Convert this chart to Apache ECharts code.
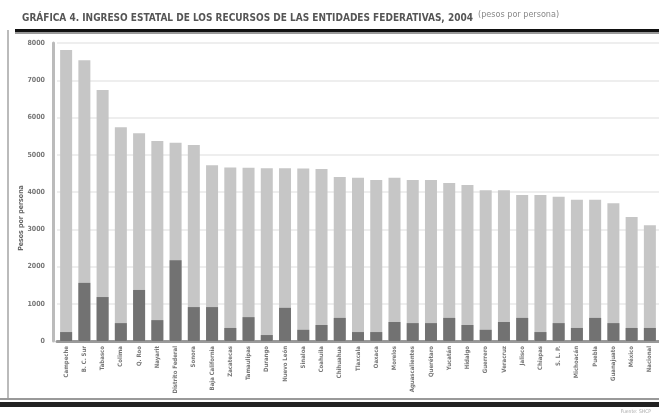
<!DOCTYPE html>
<html>
<head>
<meta charset="utf-8">
<script src="https://cdn.jsdelivr.net/npm/echarts@6/dist/echarts.min.js"></script>
<style>
  html, body { margin: 0; padding: 0; background: #fff; }
  #chart { width: 659px; height: 417px; }
</style>
</head>
<body>
<div id="chart"></div>
<script>
// entidades, ordenadas de mayor a menor
var estados = ['Campeche', 'B. C. Sur', 'Tabasco', 'Colima', 'Q. Roo', 'Nayarit', 'Distrito Federal',
  'Sonora', 'Baja California', 'Zacatecas', 'Tamaulipas', 'Durango', 'Nuevo León', 'Sinaloa',
  'Coahuila', 'Chihuahua', 'Tlaxcala', 'Oaxaca', 'Morelos', 'Aguascalientes', 'Querétaro',
  'Yucatán', 'Hidalgo', 'Guerrero', 'Veracruz', 'Jalisco', 'Chiapas', 'S. L. P.',
  'Michoacán', 'Puebla', 'Guanajuato', 'México', 'Nacional']
// recursos totales (pesos por persona)
var total = [7810, 7540, 6740, 5740, 5580, 5370, 5320, 5260, 4720, 4660, 4650, 4640, 4640, 4630,
  4620, 4400, 4380, 4320, 4380, 4320, 4320, 4240, 4190, 4050, 4050, 3920, 3920, 3870,
  3790, 3790, 3700, 3330, 3110]
// ingresos propios (pesos por persona)
var propios = [240, 1560, 1180, 480, 1370, 560, 2170, 910, 910, 350, 640, 160, 890, 300,
  430, 620, 240, 240, 510, 480, 480, 620, 430, 300, 510, 620, 240, 480,
  350, 620, 480, 350, 350]
var yTicks = [0, 1000, 2000, 3000, 4000, 5000, 6000, 7000, 8000]

var FONT = '"Liberation Sans Narrow", "DejaVu Sans Condensed", "Liberation Sans", sans-serif'

var chart = echarts.init(document.getElementById('chart'))

chart.setOption({
  backgroundColor: '#fff',
  animation: false,
  title: {
    text: 'GRÁFICA 4. INGRESO ESTATAL DE LOS RECURSOS DE LAS ENTIDADES FEDERATIVAS, 2004',
    left: 17,
    top: 8,
    textStyle: { fontFamily: FONT, fontSize: 10, fontWeight: 'bold', color: '#555' }
  },
  graphic: [
    { type: 'text', left: 478, top: 10,
      style: { text: '(pesos por persona)', fontFamily: FONT, fontSize: 9, fill: '#888' } },
    // lineas de marco
    { type: 'rect', shape: { x: 15, y: 29, width: 644, height: 3 }, style: { fill: '#111' } },
    { type: 'rect', shape: { x: 15, y: 32, width: 644, height: 2 }, style: { fill: '#999' } },
    { type: 'rect', shape: { x: 7, y: 30, width: 2, height: 368 }, style: { fill: '#bbb' } },
    { type: 'rect', shape: { x: 0, y: 398, width: 659, height: 2 }, style: { fill: '#999' } },
    { type: 'rect', shape: { x: 0, y: 402, width: 659, height: 5 }, style: { fill: '#222' } },
    { type: 'text', x: 21, y: 218, rotation: Math.PI / 2,
      style: { text: 'Pesos por persona', fontFamily: FONT, fontSize: 7, fontWeight: 'bold',
        fill: '#666', align: 'center', verticalAlign: 'middle' } },
    { type: 'text', right: 8, top: 409,
      style: { text: 'Fuente: SHCP', fontFamily: FONT, fontSize: 5, fill: '#aaa' } }
  ],
  grid: { left: 57, right: 0, top: 43, bottom: 76 },
  xAxis: {
    type: 'category',
    data: estados,
    axisLine: { lineStyle: { color: '#999', width: 3 } },
    axisTick: { show: false },
    axisLabel: {
      interval: 0, rotate: 90, margin: 5,
      fontFamily: FONT, fontSize: 6, fontWeight: 'bold', color: '#777'
    }
  },
  yAxis: {
    type: 'value',
    min: yTicks[0],
    max: yTicks[yTicks.length - 1],
    interval: 1000,
    offset: 4,
    axisLine: { show: true, lineStyle: { color: '#bbb', width: 3 } },
    axisTick: { show: false },
    axisLabel: {
      margin: 8, fontFamily: FONT, fontSize: 7, fontWeight: 'bold', color: '#777',
      formatter: function (v) { return String(v) }
    },
    splitLine: { lineStyle: { color: '#eee', width: 2 } }
  },
  series: [
    {
      name: 'Total',
      type: 'bar',
      data: total,
      barWidth: 12,
      barGap: '-100%',
      itemStyle: { color: '#c6c6c6' }
    },
    {
      name: 'Propios',
      type: 'bar',
      data: propios,
      barWidth: 12,
      itemStyle: { color: '#727272' }
    }
  ]
})
</script>
</body>
</html>
